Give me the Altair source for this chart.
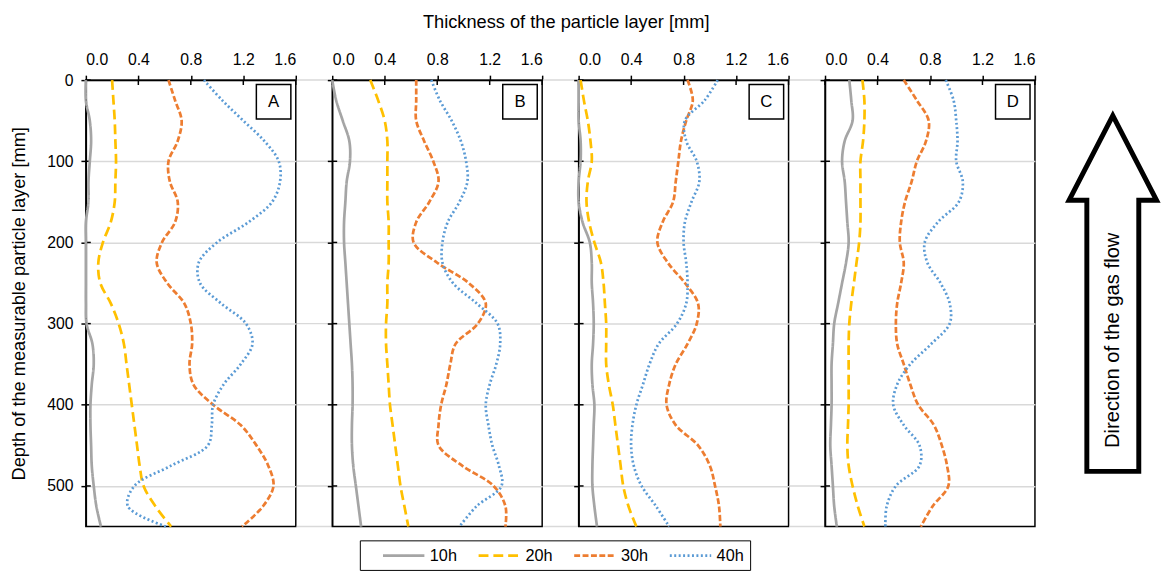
import altair as alt
import pandas as pd

FONT = "Liberation Sans"

DEPTH = [0, 25, 50, 75, 100, 125, 150, 175, 200, 225, 250, 275,
         300, 325, 350, 375, 400, 425, 450, 475, 500, 525, 550]
SERIES = ["10h", "20h", "30h", "40h"]
PANELS = ["A", "B", "C", "D"]

A_10H = [0.0, 0.0, 0.03, 0.04, 0.03, 0.02, 0.02, 0.0, 0.0, 0.0, 0.0, 0.0,
         0.005, 0.05, 0.06, 0.045, 0.035, 0.035, 0.04, 0.045, 0.06, 0.08, 0.115]
A_20H = [0.20, 0.21, 0.22, 0.225, 0.23, 0.225, 0.22, 0.19, 0.13, 0.095, 0.11, 0.19,
         0.25, 0.29, 0.31, 0.33, 0.35, 0.37, 0.39, 0.41, 0.44, 0.53, 0.65]
A_30H = [0.63, 0.68, 0.73, 0.70, 0.63, 0.64, 0.70, 0.68, 0.58, 0.54, 0.62, 0.75,
         0.80, 0.81, 0.79, 0.82, 0.97, 1.18, 1.30, 1.39, 1.43, 1.35, 1.19]
A_40H = [0.90, 1.04, 1.20, 1.36, 1.47, 1.48, 1.42, 1.24, 1.00, 0.86, 0.87, 1.03,
         1.22, 1.27, 1.18, 1.05, 0.97, 0.96, 0.93, 0.65, 0.37, 0.32, 0.61]

B_10H = [0.0, 0.03, 0.08, 0.13, 0.135, 0.11, 0.10, 0.09, 0.09, 0.10, 0.11, 0.12,
         0.13, 0.14, 0.15, 0.155, 0.155, 0.15, 0.15, 0.16, 0.18, 0.20, 0.22]
B_20H = [0.29, 0.35, 0.40, 0.42, 0.42, 0.42, 0.42, 0.43, 0.43, 0.43, 0.42, 0.42,
         0.41, 0.41, 0.42, 0.43, 0.44, 0.46, 0.48, 0.50, 0.52, 0.55, 0.58]
B_30H = [0.64, 0.64, 0.64, 0.70, 0.77, 0.81, 0.74, 0.64, 0.62, 0.80, 1.04, 1.17,
         1.11, 0.94, 0.90, 0.87, 0.83, 0.81, 0.81, 0.99, 1.23, 1.32, 1.32]
B_40H = [0.755, 0.82, 0.91, 0.98, 1.02, 1.03, 0.97, 0.88, 0.84, 0.84, 0.92, 1.10,
         1.26, 1.28, 1.25, 1.20, 1.17, 1.19, 1.22, 1.27, 1.29, 1.10, 0.97]

C_10H = [0.0, 0.0, 0.0, 0.015, 0.015, 0.0, 0.0, 0.03, 0.085, 0.10, 0.10, 0.11,
         0.115, 0.11, 0.10, 0.105, 0.12, 0.115, 0.11, 0.105, 0.105, 0.12, 0.14]
C_20H = [0.015, 0.04, 0.07, 0.09, 0.10, 0.07, 0.06, 0.08, 0.12, 0.17, 0.19, 0.20,
         0.21, 0.21, 0.21, 0.23, 0.26, 0.28, 0.30, 0.32, 0.34, 0.38, 0.44]
C_30H = [0.83, 0.87, 0.82, 0.78, 0.76, 0.74, 0.72, 0.64, 0.60, 0.68, 0.81, 0.91,
         0.90, 0.83, 0.74, 0.69, 0.67, 0.74, 0.91, 1.00, 1.04, 1.07, 1.08]
C_40H = [1.06, 0.96, 0.81, 0.82, 0.90, 0.92, 0.86, 0.81, 0.80, 0.82, 0.83, 0.82,
         0.75, 0.61, 0.54, 0.49, 0.44, 0.41, 0.40, 0.42, 0.48, 0.59, 0.69]

D_10H = [0.185, 0.20, 0.21, 0.15, 0.13, 0.15, 0.16, 0.17, 0.18, 0.16, 0.13, 0.10,
         0.07, 0.06, 0.05, 0.05, 0.05, 0.045, 0.04, 0.05, 0.06, 0.07, 0.09]
D_20H = [0.285, 0.30, 0.30, 0.29, 0.27, 0.27, 0.27, 0.27, 0.26, 0.24, 0.22, 0.20,
         0.185, 0.18, 0.18, 0.18, 0.18, 0.175, 0.17, 0.18, 0.21, 0.25, 0.30]
D_30H = [0.60, 0.70, 0.79, 0.77, 0.70, 0.66, 0.61, 0.58, 0.57, 0.60, 0.58, 0.55,
         0.54, 0.55, 0.60, 0.65, 0.71, 0.83, 0.89, 0.93, 0.94, 0.82, 0.73]
D_40H = [0.92, 0.98, 1.00, 1.01, 1.00, 1.05, 1.02, 0.86, 0.76, 0.78, 0.88, 0.95,
         0.95, 0.81, 0.65, 0.55, 0.52, 0.60, 0.72, 0.72, 0.54, 0.47, 0.46]

VALUES = {
    "A": [A_10H, A_20H, A_30H, A_40H],
    "B": [B_10H, B_20H, B_30H, B_40H],
    "C": [C_10H, C_20H, C_30H, C_40H],
    "D": [D_10H, D_20H, D_30H, D_40H],
}

X_TICKS = [0.0, 0.4, 0.8, 1.2, 1.6]
Y_TICKS = [0, 100, 200, 300, 400, 500]
GRID_Y = [0, 100, 200, 300, 400, 500, 550]
COLORS = ["#a5a5a5", "#ffc000", "#ed7d31", "#5b9bd5"]
DASHES = [[1, 0], [10, 5], [6, 2.5], [2, 2.5]]

X_TITLE = "Thickness of the particle layer [mm]"
Y_TITLE = "Depth of the measurable particle layer [mm]"
FLOW_TEXT = "Direction of the gas flow"

rows = []
for p in PANELS:
    for s, vals in zip(SERIES, VALUES[p]):
        for d, v in zip(DEPTH, vals):
            rows.append({"panel": p, "series": s, "depth": d, "value": v})
df = pd.DataFrame(rows)

W, H = 213, 453
SPACING = 37
TICK_IN = 5

ARROW_PATH = ("M0,-1L0.246,-0.524L0.146,-0.524L0.146,1L-0.146,1"
              "L-0.146,-0.524L-0.246,-0.524Z")

legend = alt.Legend(
    title=None, orient="none", legendX=278, legendY=467,
    direction="horizontal", columns=4,
    symbolType="M1,0H6.25", symbolSize=256, symbolStrokeWidth=2.75,
    labelOffset=46, labelFontSize=16.5, labelFont=FONT, labelColor="black",
    padding=6, strokeColor="black", fillColor="white", columnPadding=4,
)

x_scale = alt.Scale(domain=[0, 1.6], nice=False, zero=False)
y_scale = alt.Scale(domain=[0, 550], reverse=True, nice=False, zero=False)


def panel(name, first=False, last=False):
    d = df[df["panel"] == name]
    x = alt.X("value:Q", scale=x_scale,
              axis=alt.Axis(orient="top", values=X_TICKS, format=".1f",
                            title=None, grid=False))
    y = alt.Y("depth:Q", scale=y_scale,
              axis=alt.Axis(values=Y_TICKS, labels=first,
                            title=Y_TITLE if first else None,
                            grid=True, titlePadding=19))
    lines = alt.Chart(d).mark_line(strokeWidth=2.75, interpolate="catmull-rom").encode(
        x=x, y=y,
        color=alt.Color("series:N", scale=alt.Scale(domain=SERIES, range=COLORS),
                        legend=legend),
        strokeDash=alt.StrokeDash("series:N",
                                  scale=alt.Scale(domain=SERIES, range=DASHES),
                                  legend=legend),
        order=alt.Order("depth:Q"),
    )
    # inner halves of the crossing tick marks
    xt = alt.Chart(pd.DataFrame({"t": X_TICKS})).mark_rule(
        color="black", strokeWidth=1.5).encode(
        x=alt.X("t:Q", scale=x_scale), y=alt.value(0), y2=alt.value(TICK_IN))
    yt = alt.Chart(pd.DataFrame({"t": Y_TICKS})).mark_rule(
        color="black", strokeWidth=1.5).encode(
        y=alt.Y("t:Q", scale=y_scale), x=alt.value(0), x2=alt.value(TICK_IN))
    lab = pd.DataFrame({"label": [name]})
    box = alt.Chart(lab).mark_point(
        shape="square", size=1225, filled=False, fill="white", fillOpacity=1,
        stroke="black", strokeWidth=1.5, opacity=1,
    ).encode(x=alt.value(190.5), y=alt.value(22))
    letter = alt.Chart(lab).mark_text(
        fontSize=17, font=FONT, color="black", baseline="middle", align="center"
    ).encode(x=alt.value(190.5), y=alt.value(22.5), text="label:N")
    layers = [xt, yt, lines, box, letter]
    if not last:
        gdf = pd.DataFrame({"g": GRID_Y})
        gap = alt.Chart(gdf).mark_rule(color="#d9d9d9", strokeWidth=1.5).encode(
            y=alt.Y("g:Q", scale=y_scale), x=alt.value(W + 1), x2=alt.value(W + SPACING - 1)
        )
        layers.insert(0, gap)
    if last:
        adf = pd.DataFrame({"t": [FLOW_TEXT]})
        arrow = alt.Chart(adf).mark_point(
            shape=ARROW_PATH, size=361 * 361, filled=False, stroke="black",
            strokeWidth=5, strokeJoin="miter", opacity=1,
        ).encode(x=alt.value(292), y=alt.value(216.5))
        atext = alt.Chart(adf).mark_text(
            angle=270, fontSize=20.5, font=FONT, color="black",
            align="center", baseline="middle",
        ).encode(x=alt.value(292), y=alt.value(264), text="t:N")
        layers += [arrow, atext]
    return alt.layer(*layers).properties(width=W, height=H)


chart = alt.hconcat(
    panel("A", first=True), panel("B"), panel("C"), panel("D", last=True),
    spacing=SPACING, bounds="flush",
).properties(
    title=alt.TitleParams(X_TITLE, font=FONT, fontSize=18.5, fontWeight="normal",
                          color="black", anchor="middle", offset=20, dx=-22),
    padding={"left": 0, "top": 0, "right": 0, "bottom": 0},
).configure_view(
    stroke="black", strokeWidth=1.5
).configure_axis(
    domainColor="black", domainWidth=1.5, tickColor="black", tickWidth=1.5,
    tickSize=5, labelColor="black", labelFont=FONT, labelFontSize=16,
    labelPadding=8, titleFont=FONT, titleFontSize=18.5, titleFontWeight="normal",
    titleColor="black", gridColor="#d9d9d9", gridWidth=1.5,
)

chart.save("out.html", embed_options={"renderer": "svg", "actions": False})
